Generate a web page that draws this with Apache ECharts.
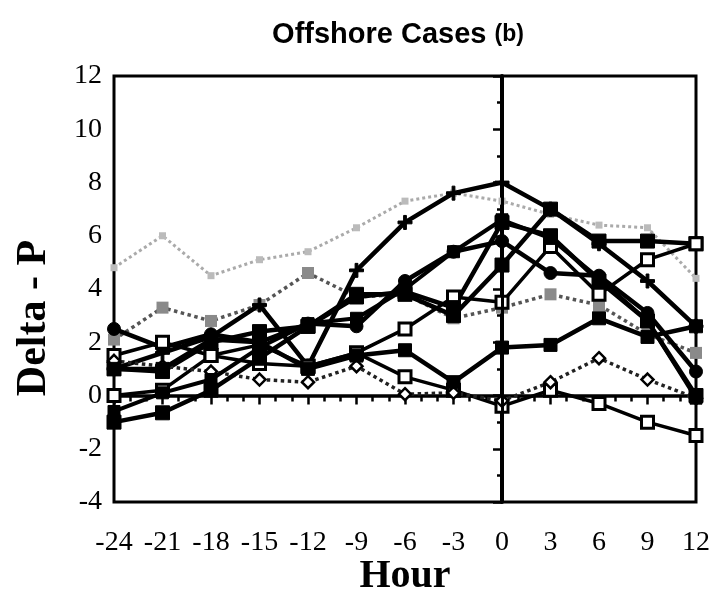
<!DOCTYPE html>
<html>
<head>
<meta charset="utf-8">
<script src="https://cdn.jsdelivr.net/npm/echarts@6/dist/echarts.min.js"></script>
<style>
  html, body { margin: 0; padding: 0; background: #fff; }
  #chart { width: 714px; height: 594px; }
</style>
</head>
<body>
<div id="chart"></div>
<script>
// Hours relative to the event
const hours = [-24, -21, -18, -15, -12, -9, -6, -3, 0, 3, 6, 9, 12];

// Delta-P for each offshore case
const caseLightDotted = [4.8, 6.0, 4.5, 5.1, 5.4, 6.3, 7.3, 7.6, 7.3, 6.8, 6.4, 6.3, 4.4];
const caseHatched     = [2.1, 3.3, 2.8, 3.4, 4.6, 3.7, 3.8, 2.9, 3.3, 3.8, 3.4, 2.3, 1.6];
const casePlus        = [1.0, 1.6, 2.2, 3.4, 1.1, 4.7, 6.5, 7.6, 8.0, 7.0, 5.7, 4.3, 2.6];
const caseSquareTop   = [1.0, 0.9, 2.0, 2.4, 2.6, 3.8, 3.8, 3.0, 4.9, 7.0, 5.8, 5.8, 5.7];
const caseCircle      = [2.5, 1.8, 2.3, 2.0, 2.7, 2.6, 4.3, 5.4, 5.8, 4.6, 4.5, 3.1, 0.9];
const caseOpenUpper   = [1.5, 2.0, 1.5, 1.9, 1.1, 1.6, 2.5, 3.7, 3.5, 5.6, 3.8, 5.1, 5.7];
const caseOpenLower   = [0.0, 0.2, 1.5, 1.2, 1.1, 1.6, 0.7, 0.2, -0.4, 0.2, -0.3, -1.0, -1.5];
const caseDiamond     = [1.3, 1.1, 0.9, 0.6, 0.5, 1.1, 0.05, 0.1, -0.2, 0.5, 1.4, 0.6, -0.1];
const caseSquareLow   = [-1.0, -0.65, 0.2, 1.4, 2.6, 3.7, 3.9, 3.3, 6.5, 6.0, 4.3, 2.8, 0.0];
const caseSquareDot   = [-0.6, 0.1, 0.6, 1.8, 2.7, 2.9, 4.0, 5.4, 6.6, 5.9, 4.4, 2.8, -0.1];
const caseSquareMid   = [1.0, 1.0, 2.1, 2.0, 1.0, 1.5, 1.7, 0.5, 1.8, 1.9, 2.9, 2.2, 2.6];

// Tick labels
const yTicks = { min: -4, max: 12, step: 2 };
const xTicks = { min: -24, max: 12, step: 3 };

const pair = vals => hours.map((h, i) => [h, vals[i]]);
const plusPath = 'path://M4,0H6V4H10V6H6V10H4V6H0V4H4Z';
const serif = 'Liberation Serif, Times New Roman, serif';
const sans = 'Liberation Sans, Arial, sans-serif';

function line(name, vals, opts) {
  return Object.assign({
    name: name,
    type: 'line',
    data: pair(vals),
    symbol: 'rect',
    symbolSize: 12,
    lineStyle: { color: '#000', width: 4.5 },
    itemStyle: { color: '#000', borderColor: '#000' },
    z: 3
  }, opts);
}

const chart = echarts.init(document.getElementById('chart'));
chart.setOption({
  animation: false,
  backgroundColor: '#fff',
  graphic: [
    {
      type: 'text', x: 398, y: 35,
      style: {
        text: 'Offshore Cases {s|(b)}',
        align: 'center', verticalAlign: 'middle',
        font: 'bold 29px ' + sans,
        fill: '#000',
        rich: { s: { font: 'bold 23px ' + sans, fill: '#000' } }
      }
    },
    {
      type: 'text', x: 405, y: 577,
      style: { text: 'Hour', align: 'center', verticalAlign: 'middle', font: 'bold 40px ' + serif, fill: '#000' }
    },
    {
      type: 'text', x: 34, y: 318, rotation: Math.PI / 2,
      style: { text: 'Delta - P', align: 'center', verticalAlign: 'middle', font: 'bold 42px ' + serif, fill: '#000' }
    }
  ],
  grid: {
    left: 114, right: 18, top: 76, bottom: 92,
    show: true, borderColor: '#000', borderWidth: 3, backgroundColor: 'transparent'
  },
  xAxis: {
    type: 'value',
    min: xTicks.min, max: xTicks.max, interval: xTicks.step,
    axisLine: { lineStyle: { color: '#000', width: 3.5 } },
    axisTick: { show: true, inside: false, length: 9, lineStyle: { color: '#000', width: 2.5 } },
    minorTick: { show: true, splitNumber: 3, length: 6, lineStyle: { color: '#000', width: 2.5 } },
    axisLabel: { fontFamily: serif, fontSize: 28, color: '#000', margin: 27 },
    splitLine: { show: false }
  },
  yAxis: {
    type: 'value',
    min: yTicks.min, max: yTicks.max, interval: yTicks.step,
    axisLine: { lineStyle: { color: '#000', width: 4 } },
    axisTick: { show: true, inside: false, length: 9, lineStyle: { color: '#000', width: 2.5 } },
    minorTick: { show: true, splitNumber: 2, length: 5, lineStyle: { color: '#000', width: 2.5 } },
    axisLabel: { fontFamily: serif, fontSize: 28, color: '#000', margin: 12 },
    splitLine: { show: false }
  },
  series: [
    line('light dotted', caseLightDotted, {
      symbol: 'rect', symbolSize: 7,
      lineStyle: { color: '#aaa', width: 3, type: 'dotted' },
      itemStyle: { color: '#bbb' }, z: 2
    }),
    line('hatched', caseHatched, {
      symbol: 'rect', symbolSize: 12,
      lineStyle: { color: '#555', width: 3.5, type: 'dotted' },
      itemStyle: { color: '#8a8a8a' }, z: 2
    }),
    line('plus', casePlus, { symbol: plusPath, symbolSize: 14 }),
    line('square top', caseSquareTop, { symbol: 'rect', symbolSize: 14 }),
    line('circle', caseCircle, { symbol: 'circle', symbolSize: 13 }),
    line('open upper', caseOpenUpper, {
      symbol: 'rect', symbolSize: 12, lineStyle: { color: '#000', width: 3.5 },
      itemStyle: { color: '#fff', borderColor: '#000', borderWidth: 3 }
    }),
    line('open lower', caseOpenLower, {
      symbol: 'rect', symbolSize: 12, lineStyle: { color: '#000', width: 3.5 },
      itemStyle: { color: '#fff', borderColor: '#000', borderWidth: 3 }
    }),
    line('diamond', caseDiamond, {
      symbol: 'diamond', symbolSize: 12, lineStyle: { color: '#222', width: 3.5, type: 'dotted' },
      itemStyle: { color: '#fff', borderColor: '#000', borderWidth: 2.5 }
    }),
    line('square low', caseSquareLow, { symbol: 'rect', symbolSize: 14 }),
    line('square dot', caseSquareDot, { symbol: 'rect', symbolSize: 12, lineStyle: { color: '#000', width: 4 } }),
    line('square mid', caseSquareMid, {
      symbol: 'rect', symbolSize: 13,
      markLine: {
        silent: true, symbol: 'none', label: { show: false },
        lineStyle: { color: '#000', width: 3, type: 'solid' },
        data: [{ xAxis: 0 }]
      }
    })
  ]
});
</script>
</body>
</html>
